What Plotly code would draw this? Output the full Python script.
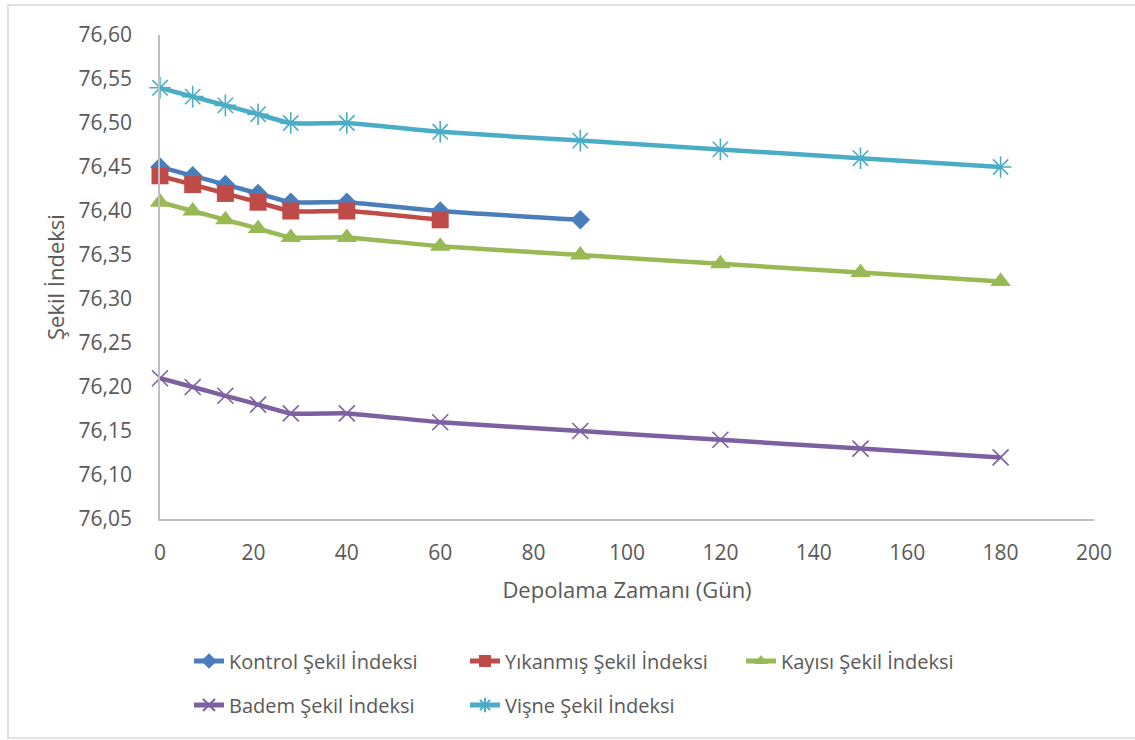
import plotly.graph_objects as go

# Storage time (days)
days = [0, 7, 14, 21, 28, 40, 60, 90, 120, 150, 180]

# Shape index per treatment
kontrol = [76.45, 76.44, 76.43, 76.42, 76.41, 76.41, 76.40, 76.39]
yikanmis = [76.44, 76.43, 76.42, 76.41, 76.40, 76.40, 76.39]
kayisi = [76.41, 76.40, 76.39, 76.38, 76.37, 76.37, 76.36, 76.35, 76.34, 76.33, 76.32]
badem = [76.21, 76.20, 76.19, 76.18, 76.17, 76.17, 76.16, 76.15, 76.14, 76.13, 76.12]
visne = [76.54, 76.53, 76.52, 76.51, 76.50, 76.50, 76.49, 76.48, 76.47, 76.46, 76.45]

names = ["Kontrol Şekil İndeksi", "Yıkanmış Şekil İndeksi", "Kayısı Şekil İndeksi",
         "Badem Şekil İndeksi", "Vişne Şekil İndeksi"]

FONT = "'Open Sans', 'Noto Sans', sans-serif"
TXT = "#595959"

series = [
    (names[0], kontrol, "#4A7EBB", dict(symbol="diamond", size=15), "legend"),
    (names[1], yikanmis, "#BE4B48", dict(symbol="square", size=17), "legend"),
    (names[2], kayisi, "#98B954", dict(symbol="triangle-up", size=18), "legend"),
    (names[3], badem, "#7D60A0", dict(symbol="x-thin-open", size=16, line=dict(width=1.6)), "legend2"),
    (names[4], visne, "#4BACC6", dict(symbol="asterisk-open", size=18, line=dict(width=1.6)), "legend2"),
]

fig = go.Figure()
for name, vals, color, mk, lg in series:
    marker = dict(color=color, **mk)
    if "line" in mk:
        marker["line"] = dict(color=color, width=mk["line"]["width"])
    fig.add_trace(go.Scatter(
        x=days[:len(vals)], y=vals, name=name, mode="lines+markers",
        line=dict(color=color, width=4.5, shape="spline", smoothing=0.6),
        marker=marker, cliponaxis=False, legend=lg,
    ))

legend_common = dict(
    orientation="h", xanchor="left", yanchor="middle",
    font=dict(family=FONT, size=20, color=TXT),
    entrywidth=231, entrywidthmode="pixels",
    bgcolor="rgba(0,0,0,0)", itemsizing="constant",
)

fig.update_layout(
    width=1135, height=740,
    margin=dict(l=160, r=41, t=35, b=221),
    paper_bgcolor="white", plot_bgcolor="white",
    separators=",.",
    font=dict(family=FONT, size=20, color=TXT),
    showlegend=True,
    legend=dict(x=29 / 934, y=(519 - 661) / 484, **legend_common),
    legend2=dict(x=29 / 934, y=(519 - 705) / 484, **legend_common),
    xaxis=dict(
        range=[0, 200], dtick=20, tick0=0, showgrid=False, zeroline=False,
        showline=True, linecolor="#BFBFBF", linewidth=1.5, ticks="",
        ticklabelstandoff=14, tickfont=dict(size=21, color=TXT),
        title=dict(text="Depolama Zamanı (Gün)", font=dict(size=22, color=TXT), standoff=18),
    ),
    yaxis=dict(
        range=[76.05, 76.60], dtick=0.05, tick0=76.05, tickformat=".2f",
        showgrid=False, zeroline=False, showline=True, linecolor="#BFBFBF",
        linewidth=1.5, ticks="", ticklabelstandoff=22,
        tickfont=dict(size=21, color=TXT),
        title=dict(text="Şekil İndeksi", font=dict(size=22, color=TXT), standoff=8),
    ),
    shapes=[dict(
        type="rect", xref="paper", yref="paper",
        x0=(8 - 160) / 934, x1=(1145 - 160) / 934,
        y0=(519 - 738) / 484, y1=(519 - 5) / 484,
        line=dict(color="#D9D9D9", width=1.5), fillcolor="rgba(0,0,0,0)",
        layer="below",
    )],
)

fig.write_html("out.html")
